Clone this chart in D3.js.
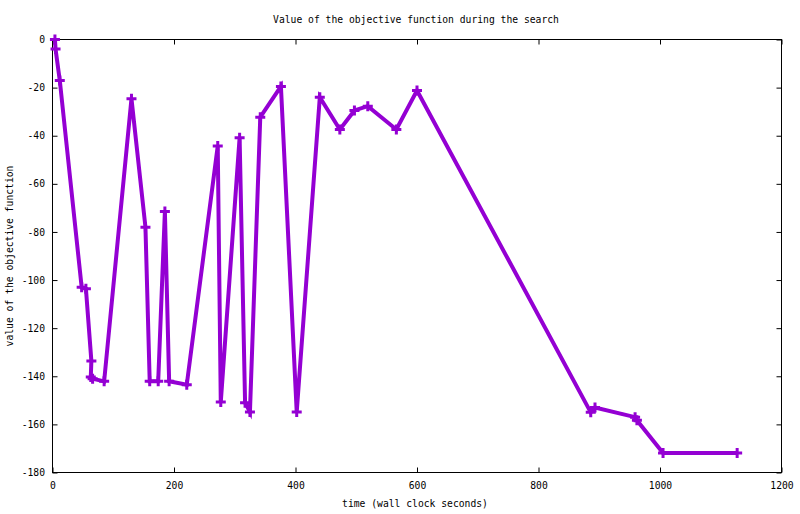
<!DOCTYPE html>
<html>
<head>
<meta charset="utf-8">
<script src="https://cdn.jsdelivr.net/npm/d3@7"></script>
<style>
  body { margin: 0; background: #fff; }
  svg { display: block; }
  text { font-family: "DejaVu Sans Mono", "Liberation Mono", monospace; font-size: 9.7px; fill: #000; }
</style>
</head>
<body>
<svg></svg>
<script>
// wall clock seconds for every evaluation, in search order
let times = [4, 5, 12, 48, 55, 64, 63, 66, 85, 130, 153, 160, 174, 185, 192, 221,
             272, 277, 308, 317, 325, 342, 376, 402, 440, 473, 497, 519, 566, 600,
             886, 893, 959, 962, 1005, 1127];

// objective value at each of those times
let objValues = [0, -4, -17, -103, -103.6, -133.7, -140.3, -141, -142.1, -24.6, -78, -142.1,
                 -142.1, -71.5, -142.1, -143.5, -44.3, -150.7, -40.8, -151, -154.8, -32.3,
                 -19.5, -154.8, -24, -37.4, -29.5, -27.7, -37.4, -21.2, -155, -153, -157,
                 -158.3, -171.9, -171.9];

let xTicks = [0, 200, 400, 600, 800, 1000, 1200];
let yTicks = [0, -20, -40, -60, -80, -100, -120, -140, -160, -180];

let titleText = 'Value of the objective function during the search';
let xLabel = 'time (wall clock seconds)';
let yLabel = 'value of the objective function';

let width = 800;
let height = 514;
let plotLeft = 52.5, plotRight = 781.5, plotTop = 39.5, plotBottom = 472.5;
let color = '#9400d3';

let points = times.map((t, i) => ({t: t, v: objValues[i]}));

let svg = d3.select('svg').attr('width', width).attr('height', height);

let xScale = d3.scaleLinear().domain([0, 1200]).range([plotLeft, plotRight]);
let yScale = d3.scaleLinear().domain([-180, 0]).range([plotBottom, plotTop]);

// axes, ticks pointing inward, mirrored on top and right
let drawAxes = () => {
    let xAxis = d3.axisBottom(xScale).tickValues(xTicks).tickFormat(d3.format('d'))
                  .tickSizeInner(-5).tickSizeOuter(0).tickPadding(10);
    let yAxis = d3.axisLeft(yScale).tickValues(yTicks).tickFormat(d => String(d))
                  .tickSizeInner(-5).tickSizeOuter(0).tickPadding(7.5);
    let xTop = d3.axisTop(xScale).tickValues(xTicks).tickFormat('').tickSizeInner(-5).tickSizeOuter(0);
    let yRight = d3.axisRight(yScale).tickValues(yTicks).tickFormat('').tickSizeInner(-5).tickSizeOuter(0);

    svg.append('g').attr('transform', 'translate(0,' + plotBottom + ')').call(xAxis);
    svg.append('g').attr('transform', 'translate(' + plotLeft + ',0)').call(yAxis);
    svg.append('g').attr('transform', 'translate(0,' + plotTop + ')').call(xTop);
    svg.append('g').attr('transform', 'translate(' + plotRight + ',0)').call(yRight);

    svg.selectAll('.domain').remove();
    svg.selectAll('.tick line').attr('stroke', '#000');
    svg.selectAll('g').attr('font-family', null).attr('font-size', null);

    svg.append('rect')
       .attr('x', plotLeft).attr('y', plotTop)
       .attr('width', plotRight - plotLeft).attr('height', plotBottom - plotTop)
       .attr('fill', 'none').attr('stroke', '#000').attr('stroke-width', 1);
}

let drawSeries = () => {
    let line = d3.line().x(d => xScale(d.t)).y(d => yScale(d.v));
    svg.append('path')
       .datum(points)
       .attr('d', line)
       .attr('fill', 'none')
       .attr('stroke', color)
       .attr('stroke-width', 4)
       .attr('stroke-linejoin', 'miter');

    svg.selectAll('.pt')
       .data(points)
       .enter()
       .append('path')
       .attr('class', 'pt')
       .attr('transform', d => 'translate(' + xScale(d.t) + ',' + yScale(d.v) + ')')
       .attr('d', 'M-5,0H5M0,-5V5')
       .attr('stroke', color)
       .attr('stroke-width', 3);
}

let drawLabels = () => {
    svg.append('text').attr('x', 416).attr('y', 23)
       .attr('text-anchor', 'middle').text(titleText);
    svg.append('text').attr('x', 415).attr('y', 507)
       .attr('text-anchor', 'middle').text(xLabel);
    svg.append('text')
       .attr('transform', 'translate(13,' + ((plotTop + plotBottom) / 2) + ') rotate(-90)')
       .attr('text-anchor', 'middle').text(yLabel);
}

drawAxes();
drawSeries();
drawLabels();
</script>
</body>
</html>
